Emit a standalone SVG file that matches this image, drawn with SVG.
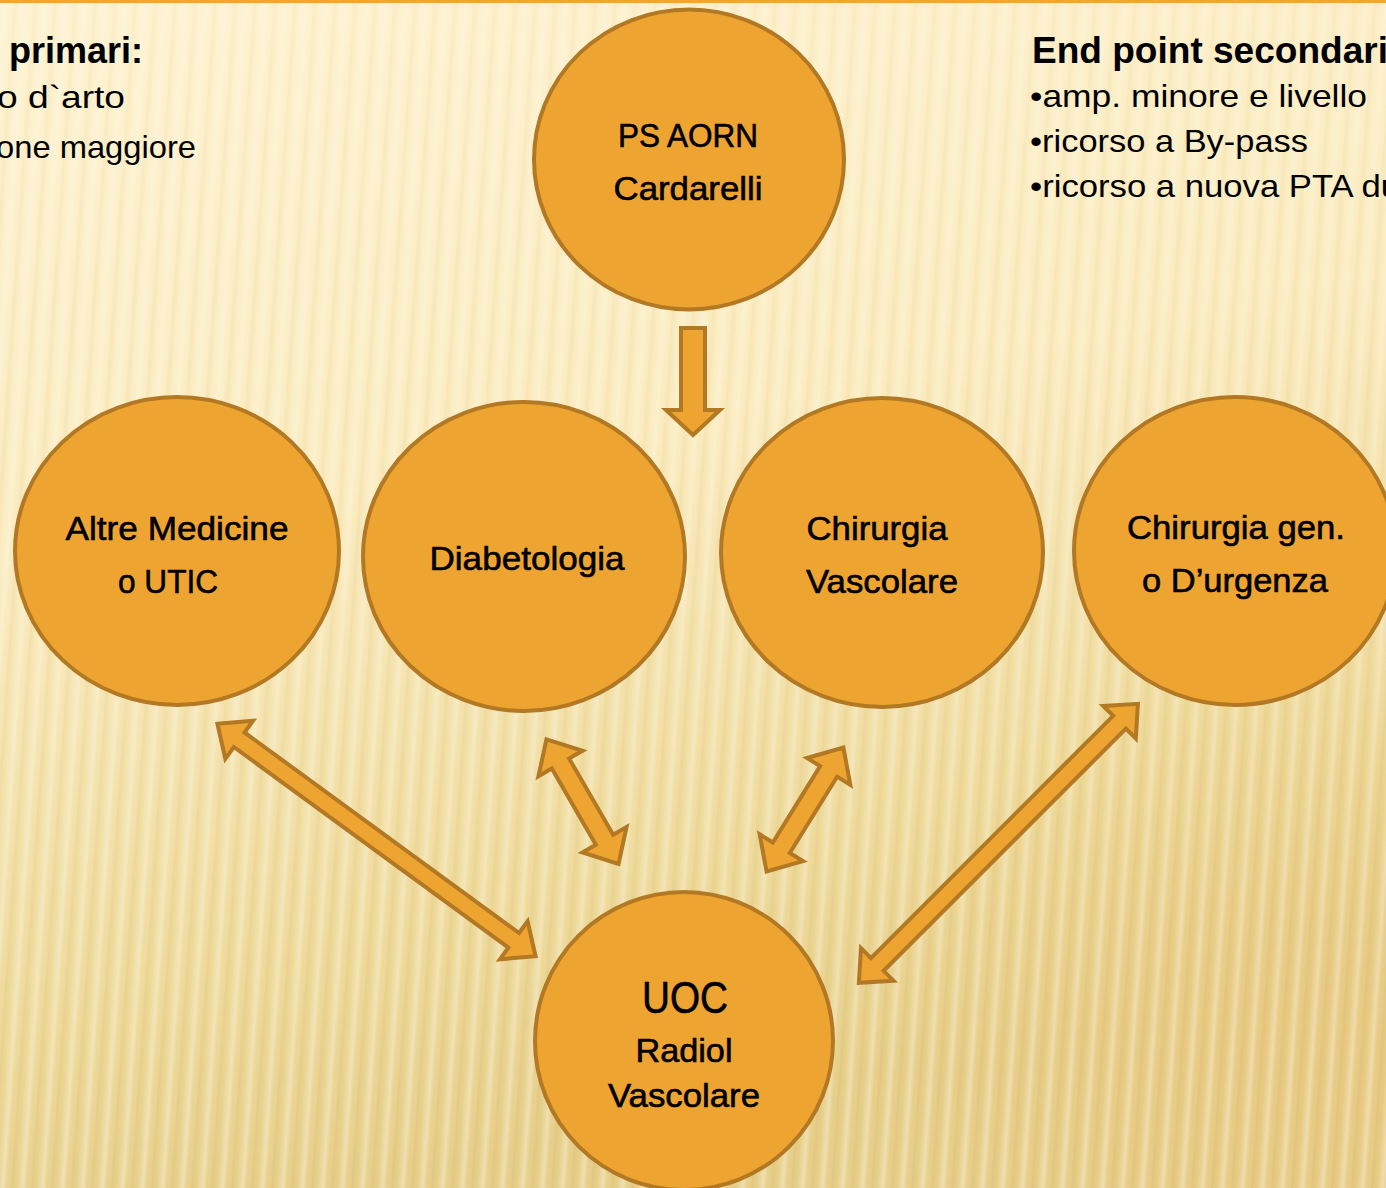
<svg xmlns="http://www.w3.org/2000/svg" width="1386" height="1188" viewBox="0 0 1386 1188">
<defs>
<linearGradient id="bg" x1="0" y1="0" x2="0.25" y2="1">
<stop offset="0" stop-color="#FEF3D2"/>
<stop offset="0.45" stop-color="#FBECC0"/>
<stop offset="0.8" stop-color="#EFDB9C"/>
<stop offset="1" stop-color="#E7CF8A"/>
</linearGradient>
<radialGradient id="warm" cx="1300" cy="1050" r="420" gradientUnits="userSpaceOnUse">
<stop offset="0" stop-color="#E9C77E" stop-opacity="0.6"/>
<stop offset="1" stop-color="#E9C77E" stop-opacity="0"/>
</radialGradient>
<linearGradient id="stripeG" x1="0" y1="0" x2="1" y2="0">
<stop offset="0" stop-color="#FFFFFF" stop-opacity="0"/>
<stop offset="0.3" stop-color="#FFFFFF" stop-opacity="0.35"/>
<stop offset="0.5" stop-color="#FFFFFF" stop-opacity="0"/>
<stop offset="0.75" stop-color="#B89A3A" stop-opacity="0.12"/>
<stop offset="1" stop-color="#B89A3A" stop-opacity="0"/>
</linearGradient>
<pattern id="stripes" width="20" height="40" patternUnits="userSpaceOnUse" patternTransform="skewX(-4)">
<rect width="20" height="40" fill="url(#stripeG)"/>
</pattern>
<linearGradient id="stripeFade" x1="0" y1="0" x2="0" y2="1">
<stop offset="0" stop-color="#fff" stop-opacity="0.5"/>
<stop offset="1" stop-color="#fff" stop-opacity="1"/>
</linearGradient>
<mask id="fadeMask"><rect width="1386" height="1188" fill="url(#stripeFade)"/></mask>
</defs>
<style>
.node{fill:#EEA431;stroke:#B27823;stroke-width:4}
.arrow{fill:#EEA431;stroke:#B27823;stroke-width:4;stroke-linejoin:miter;stroke-miterlimit:6}
.lbl{font-family:"Liberation Sans",Arial,sans-serif;font-size:33px;fill:#000;stroke:#000;stroke-width:0.6;text-anchor:middle}
.big{font-size:44px}
.hdr{font-family:"Liberation Sans",Arial,sans-serif;font-size:36px;font-weight:700;fill:#000}
.body{font-family:"Liberation Sans",Arial,sans-serif;font-size:32px;fill:#000}
</style>
<rect width="1386" height="1188" fill="url(#bg)"/>
<rect width="1386" height="1188" fill="url(#warm)"/>
<rect width="1386" height="1188" fill="url(#stripes)" mask="url(#fadeMask)"/>
<rect x="0" y="0" width="1386" height="3" fill="#F0A535"/>

<g id="text-left">
<text class="hdr" x="143" y="63" text-anchor="end">primari:</text>
<text class="body" x="125" y="108" text-anchor="end" textLength="128" lengthAdjust="spacingAndGlyphs">o d`arto</text>
<text class="body" x="196" y="158" text-anchor="end" textLength="200" lengthAdjust="spacingAndGlyphs">one maggiore</text>
</g>
<g id="text-right">
<text class="hdr" x="1032" y="63" textLength="356" lengthAdjust="spacingAndGlyphs">End point secondari</text>
<text class="body" x="1030" y="107" textLength="337" lengthAdjust="spacingAndGlyphs">•amp. minore e livello</text>
<text class="body" x="1030" y="152" textLength="278" lengthAdjust="spacingAndGlyphs">•ricorso a By-pass</text>
<text class="body" x="1030" y="197" textLength="370" lengthAdjust="spacingAndGlyphs">•ricorso a nuova PTA du</text>
</g>

<g id="connectors">
<polygon class="arrow" points="681,328 705,328 705,410 720,410 693,435 666,410 681,410"/>
<polygon class="arrow" transform="translate(217.4,723.8) rotate(36.15)" points="0,0 27,-23.5 27,-9 367,-9 367,-23.5 394,0 367,23.5 367,9 27,9 27,23.5"/>
<polygon class="arrow" transform="translate(546.5,739.3) rotate(60)" points="0,0 28,-25.5 28,-10 116,-10 116,-25.5 144,0 116,25.5 116,10 28,10 28,25.5"/>
<polygon class="arrow" transform="translate(843.4,747.6) rotate(121.8)" points="0,0 28,-25.5 28,-10 117.8,-10 117.8,-25.5 145.8,0 117.8,25.5 117.8,10 28,10 28,25.5"/>
<polygon class="arrow" transform="translate(1137.9,703.8) rotate(135)" points="0,0 26,-23 26,-9 368.6,-9 368.6,-23 394.6,0 368.6,23 368.6,9 26,9 26,23"/>
</g>

<g id="node-ps">
<ellipse class="node" cx="689" cy="159.5" rx="155" ry="150"/>
<text class="lbl" x="688" y="147" textLength="140" lengthAdjust="spacingAndGlyphs">PS AORN</text>
<text class="lbl" x="688" y="200" textLength="149" lengthAdjust="spacingAndGlyphs">Cardarelli</text>
</g>
<g id="node-altre">
<ellipse class="node" cx="177" cy="551" rx="162" ry="154"/>
<text class="lbl" x="177" y="540" textLength="223" lengthAdjust="spacingAndGlyphs">Altre Medicine</text>
<text class="lbl" x="168" y="593" textLength="100" lengthAdjust="spacingAndGlyphs">o UTIC</text>
</g>
<g id="node-diab">
<ellipse class="node" cx="524" cy="556.5" rx="161" ry="154.5"/>
<text class="lbl" x="527" y="570" textLength="195" lengthAdjust="spacingAndGlyphs">Diabetologia</text>
</g>
<g id="node-chirvasc">
<ellipse class="node" cx="882" cy="552.5" rx="161" ry="154.5"/>
<text class="lbl" x="877" y="540" textLength="141" lengthAdjust="spacingAndGlyphs">Chirurgia</text>
<text class="lbl" x="882" y="593" textLength="152" lengthAdjust="spacingAndGlyphs">Vascolare</text>
</g>
<g id="node-chirgen">
<ellipse class="node" cx="1235" cy="551" rx="161" ry="154"/>
<text class="lbl" x="1236" y="539" textLength="218" lengthAdjust="spacingAndGlyphs">Chirurgia gen.</text>
<text class="lbl" x="1235" y="592" textLength="186" lengthAdjust="spacingAndGlyphs">o D’urgenza</text>
</g>
<g id="node-uoc">
<ellipse class="node" cx="684" cy="1041" rx="149" ry="149"/>
<text class="lbl big" x="685" y="1013" textLength="86" lengthAdjust="spacingAndGlyphs">UOC</text>
<text class="lbl" x="684" y="1062" textLength="97" lengthAdjust="spacingAndGlyphs">Radiol</text>
<text class="lbl" x="684" y="1107" textLength="152" lengthAdjust="spacingAndGlyphs">Vascolare</text>
</g>
</svg>
